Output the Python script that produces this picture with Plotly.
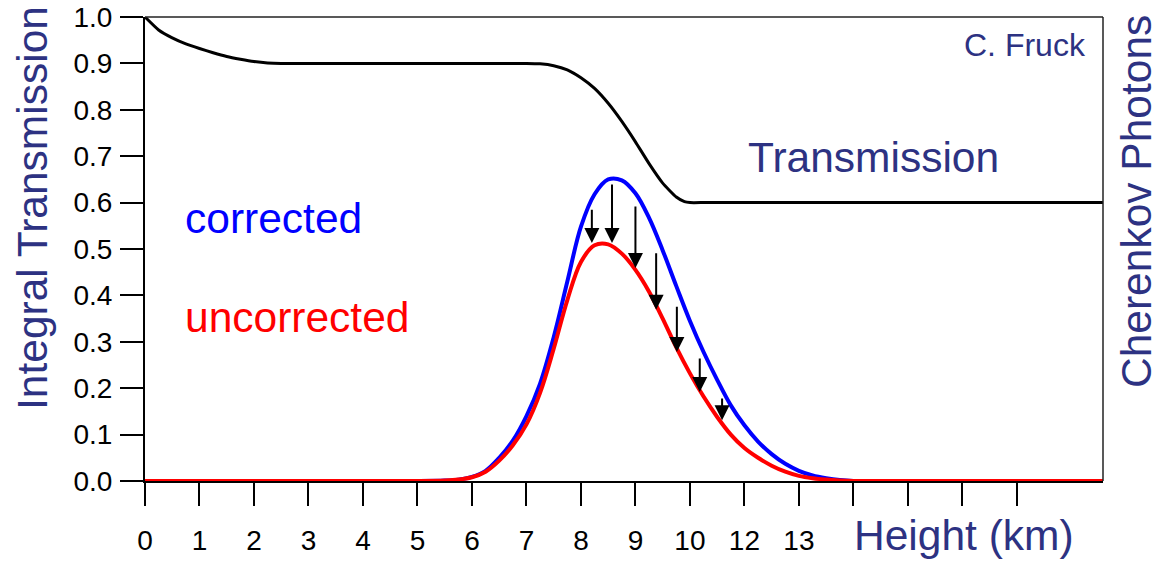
import plotly.graph_objects as go

# ---- data ----
trans_x = [0, 0.25, 0.5, 0.75, 1.0, 1.25, 1.5, 1.75, 2.0, 2.25, 2.5, 3.0, 3.5, 4.0, 4.5, 5.0, 5.5, 6.0, 6.5, 7.0, 7.25,
           7.5, 7.75, 8.0, 8.25, 8.5, 8.75, 9.0, 9.25, 9.5, 9.75, 9.9, 10.0, 10.25, 10.5, 11.0, 12.0, 14.0, 16.0, 17.6]
trans_y = [1.0, 0.972, 0.955, 0.942, 0.932, 0.923, 0.915, 0.909, 0.904, 0.901, 0.9, 0.9, 0.9, 0.9, 0.9, 0.9, 0.9, 0.9, 0.9, 0.9, 0.899,
           0.895, 0.886, 0.869, 0.846, 0.814, 0.775, 0.731, 0.684, 0.642, 0.612, 0.602, 0.6, 0.6, 0.6, 0.6, 0.6, 0.6, 0.6, 0.6]

corr_x = [0, 2.0, 4.0, 5.0, 5.5, 5.75, 6.0, 6.25, 6.5, 6.75, 7.0, 7.25, 7.5, 7.75, 8.0, 8.25, 8.5, 8.75, 9.0, 9.25, 9.5, 9.75,
          10.0, 10.25, 10.5, 10.75, 11.0, 11.25, 11.5, 11.75, 12.0, 12.25, 12.5, 12.75, 13.0, 14.0, 16.0, 17.6]
corr_y = [0, 0, 0, 0, 0.001, 0.003, 0.009, 0.022, 0.05, 0.087, 0.14, 0.21, 0.31, 0.43, 0.548, 0.618, 0.65, 0.648, 0.62, 0.567, 0.497, 0.42,
          0.345, 0.278, 0.218, 0.163, 0.12, 0.085, 0.058, 0.037, 0.022, 0.012, 0.006, 0.002, 0, 0, 0, 0]

unc_x = [0, 2.0, 4.0, 5.0, 5.5, 5.75, 6.0, 6.25, 6.5, 6.75, 7.0, 7.25, 7.5, 7.75, 8.0, 8.25, 8.5, 8.75, 9.0, 9.25, 9.5, 9.75,
         10.0, 10.25, 10.5, 10.75, 11.0, 11.25, 11.5, 11.75, 12.0, 12.25, 12.5, 12.75, 13.0, 14.0, 16.0, 17.6]
unc_y = [0, 0, 0, 0, 0.001, 0.003, 0.008, 0.02, 0.044, 0.077, 0.122, 0.19, 0.285, 0.39, 0.472, 0.508, 0.51, 0.49, 0.455, 0.408, 0.35, 0.288,
         0.232, 0.182, 0.138, 0.1, 0.071, 0.05, 0.033, 0.02, 0.011, 0.006, 0.003, 0.001, 0, 0, 0, 0]

arrow_x = [8.2, 8.57, 9.0, 9.38, 9.76, 10.18, 10.59]
arrow_top = [0.588, 0.642, 0.595, 0.494, 0.379, 0.267, 0.181]
arrow_tip = [0.513, 0.513, 0.459, 0.369, 0.278, 0.192, 0.131]

x_tickvals = list(range(17))
x_ticktext = ["0", "1", "2", "3", "4", "5", "6", "7", "8", "9", "10", "12", "13", "", "", "", ""]
y_tickvals = [0, 0.1, 0.2, 0.3, 0.4, 0.5, 0.6, 0.7, 0.8, 0.9, 1.0]
y_ticktext = ["0.0", "0.1", "0.2", "0.3", "0.4", "0.5", "0.6", "0.7", "0.8", "0.9", "1.0"]

NAVY = "#2d3282"
FONT = "Liberation Sans, Arial, sans-serif"

fig = go.Figure()
fig.add_trace(go.Scatter(x=trans_x, y=trans_y, mode="lines",
                         line=dict(color="black", width=3, shape="spline", smoothing=0.5),
                         hoverinfo="skip"))
fig.add_trace(go.Scatter(x=corr_x, y=corr_y, mode="lines",
                         line=dict(color="#0000ff", width=4, shape="spline", smoothing=1),
                         hoverinfo="skip"))
fig.add_trace(go.Scatter(x=unc_x, y=unc_y, mode="lines",
                         line=dict(color="#ff0000", width=4, shape="spline", smoothing=1),
                         hoverinfo="skip"))

annotations = []
for xa, yt, yb in zip(arrow_x, arrow_top, arrow_tip):
    annotations.append(dict(x=xa, y=yb, ax=xa, ay=yt, xref="x", yref="y", axref="x", ayref="y",
                            text="", showarrow=True, arrowhead=2, arrowsize=1.5, arrowwidth=2,
                            arrowcolor="black", standoff=0, startstandoff=0))

def txt(text, x, y, size, color, xanchor="left", angle=0):
    annotations.append(dict(text=text, x=x, y=y, xref="paper", yref="paper", showarrow=False,
                            xanchor=xanchor, yanchor="middle", textangle=angle,
                            font=dict(family=FONT, size=size, color=color)))

L, R, T, B = 145, 1103, 17, 481
def px(xp): return (xp - L) / (R - L)
def py(yp): return (B - yp) / (B - T)

txt("C. Fruck", px(1088), py(45), 32, NAVY, xanchor="right")
txt("Transmission", px(746), py(157), 42.5, NAVY)
txt("corrected", px(183), py(219), 42.5, "#0000ff")
txt("uncorrected", px(183), py(317), 42.5, "#ff0000")
txt("Height (km)", px(852), py(535), 42.5, NAVY)
txt("Integral Transmission", px(32), py(208), 42.5, NAVY, xanchor="center", angle=-90)
txt("Cherenkov Photons", px(1137), py(202), 42.5, NAVY, xanchor="center", angle=-90)

fig.update_layout(
    width=1161, height=561,
    margin=dict(l=145, r=58, t=17, b=80, autoexpand=False),
    paper_bgcolor="white", plot_bgcolor="white",
    showlegend=False,
    annotations=annotations,
    shapes=[
        dict(type="line", xref="paper", yref="paper", x0=0, x1=1, y0=1, y1=1,
             line=dict(color="#222", width=1.5)),
        dict(type="line", xref="paper", yref="paper", x0=1, x1=1, y0=0, y1=1,
             line=dict(color="#222", width=1.5)),
    ],
    xaxis=dict(range=[0, 17.58], showgrid=False, zeroline=False, showline=True, automargin=False,
               linecolor="black", linewidth=2, ticks="outside", ticklen=23, tickwidth=2,
               tickcolor="black", tickvals=x_tickvals, ticktext=x_ticktext,
               tickfont=dict(family=FONT, size=28, color="black"), ticklabelstandoff=10),
    yaxis=dict(range=[0, 1], showgrid=False, zeroline=False, showline=True, automargin=False,
               linecolor="black", linewidth=2, ticks="outside", ticklen=23, tickwidth=2,
               tickcolor="black", tickvals=y_tickvals, ticktext=y_ticktext,
               tickfont=dict(family=FONT, size=28, color="black"), ticklabelstandoff=2),
)

fig.write_html("out.html")
